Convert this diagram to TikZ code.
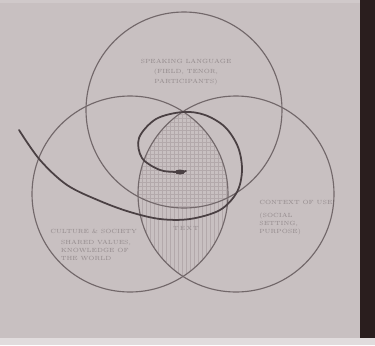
\documentclass[tikz,border=0pt]{standalone}
\usepackage{tikz}

\definecolor{paper}{HTML}{C8C0C1}
\definecolor{pencil}{HTML}{72686A}
\definecolor{lead}{HTML}{4A4043}
\definecolor{hatch}{HTML}{B3A9AB}
\definecolor{faint}{HTML}{938A8C}
\definecolor{board}{HTML}{2A1E1E}

\tikzset{
  ring/.style={draw=pencil, line width=0.65pt},
  hatchline/.style={hatch, line width=0.35pt},
  note/.style={text=faint, font=\fontsize{3.4}{4.4}\selectfont, align=left, inner sep=0pt}
}

\begin{document}
\begin{tikzpicture}[x=0.02cm, y=-0.02cm]
        \useasboundingbox (0,0) rectangle (375,345);

        % Draw the sheet and the board behind it
        \fill[paper] (0,0) rectangle (375,345);
        \fill[paper!55!white] (0,338) rectangle (375,345);
        \fill[paper!85!white] (0,0) rectangle (375,3);
        \fill[board] (360,0) rectangle (375,338);

        % Hatch the lens of the two lower circles
        \begin{scope}
            \clip (130,194) circle (98);
            \clip (236,194) circle (98);
            \foreach \x in {138,142,...,234}
                \draw[hatchline] (\x,100) -- (\x,290);
        \end{scope}

        % Cross hatch where all three meet
        \begin{scope}
            \clip (130,194) circle (98);
            \clip (236,194) circle (98);
            \clip (184,110) circle (98);
            \foreach \y in {114,118,...,210}
                \draw[hatchline] (130,\y) -- (240,\y);
        \end{scope}

        % Draw the three circles
        \draw[ring] (184,110) circle (98);
        \draw[ring] (130,194) circle (98);
        \draw[ring] (236,194) circle (98);

        % Draw the spiral
        \draw[lead, line width=1pt, line cap=round] plot[smooth, tension=0.55] coordinates {
            (19,130) (40,160) (67,185) (100,201) (130,212) (160,219) (190,219)
            (220,210) (237,192) (242,170) (238,147) (225,127) (205,115) (183,112)
            (156,119) (139,138) (142,158) (160,170) (178,172) (186,171)};
        \fill[lead] (180,172) ellipse (5 and 2.5);

        % Label the circles
        \node[note, align=center] (topnote) at (186,72) {SPEAKING LANGUAGE\\[1.5pt] (FIELD, TENOR,\\[1.5pt] PARTICIPANTS)};
        \node[note, anchor=north west] (rightnote) at (259,200) {CONTEXT OF USE\\[3pt] (SOCIAL\\ SETTING,\\ PURPOSE)};
        \node[note, anchor=north west] (leftnote) at (50,229) {CULTURE \& SOCIETY\\[2pt] \hspace*{6pt}SHARED VALUES,\\ \hspace*{6pt}KNOWLEDGE OF\\ \hspace*{6pt}THE WORLD};
        \node[note, align=center] (lensnote) at (186,228) {T\,E\,X\,T};
\end{tikzpicture}
\end{document}
